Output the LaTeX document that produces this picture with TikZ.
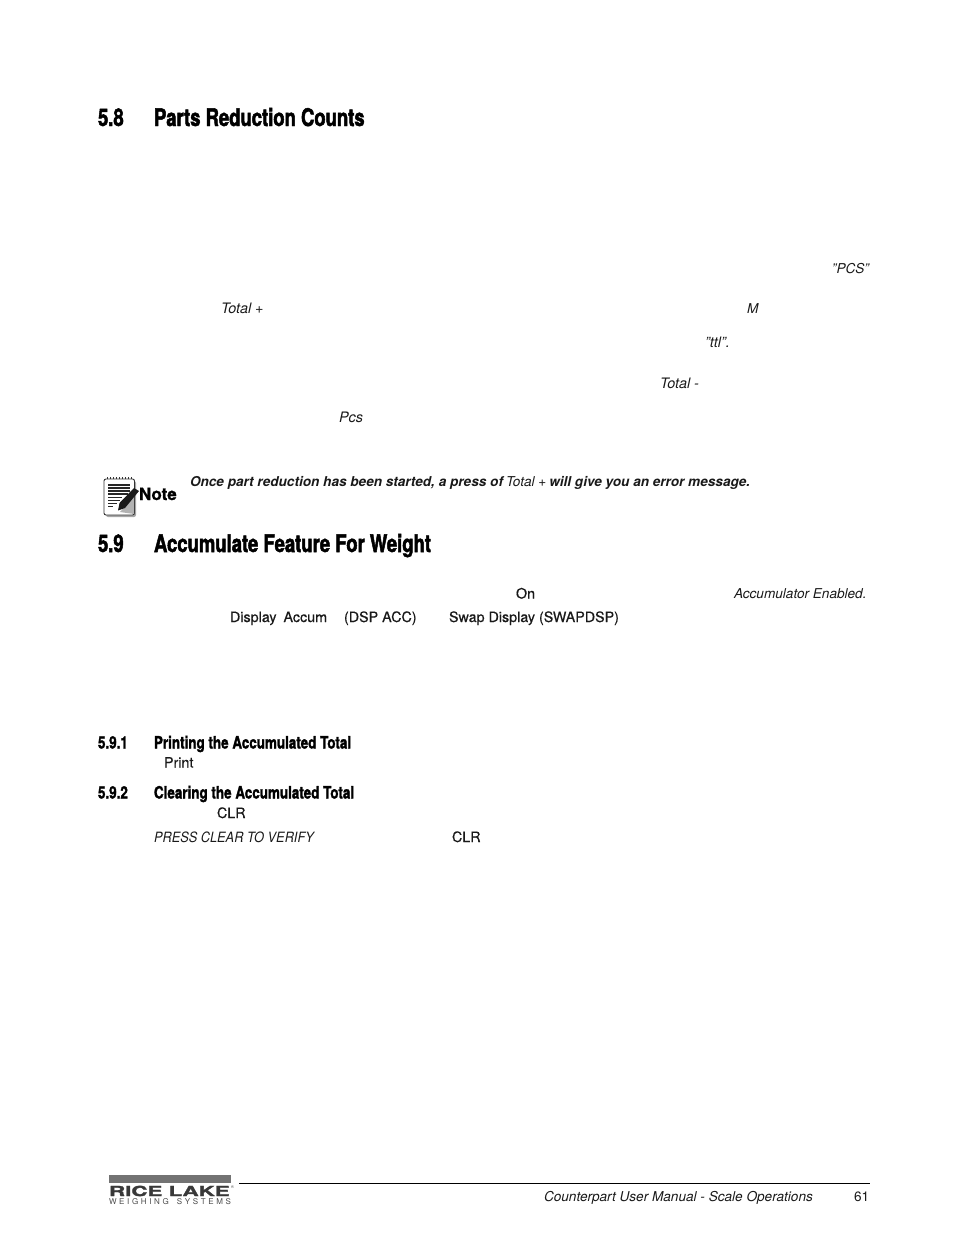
\documentclass[tikz,border=0pt]{standalone}
\usepackage{fontspec}
\setmainfont{TeX Gyre Heros}
\newfontfamily\headfont[FakeStretch=0.76,FakeBold=2]{TeX Gyre Heros Bold}
\newfontfamily\subheadfont[FakeStretch=0.79,FakeBold=1.6]{TeX Gyre Heros Bold}
\newfontfamily\logofont[FakeStretch=1.62,FakeBold=2.5]{TeX Gyre Heros Bold}
\newfontfamily\keyfont[FakeBold=0.5]{TeX Gyre Heros}
\newfontfamily\capsfont[FakeStretch=0.9]{TeX Gyre Heros Italic}
\newfontfamily\notefont[FakeBold=1]{TeX Gyre Heros Bold}
\usetikzlibrary{positioning}
\def\rulewidth{0.8pt}
\tikzset{
	base/.style={inner sep=0pt,outer sep=0pt,anchor=base west,text=black!90},
	heading/.style={base,text=black,font=\headfont\fontsize{24.3}{24}\selectfont},
	subheading/.style={base,text=black,font=\subheadfont\fontsize{17}{17}\selectfont},
	emph/.style={base,font=\fontsize{13.6}{14}\selectfont\itshape},
	shortemph/.style={base,font=\fontsize{14.4}{14}\selectfont\itshape},
	capsemph/.style={base,font=\capsfont\fontsize{14.2}{14}\selectfont},
	keyword/.style={base,font=\keyfont\fontsize{14.3}{14}\selectfont},
	boldnote/.style={base,font=\fontsize{13.6}{14}\selectfont\bfseries\itshape},
	footer/.style={base,font=\fontsize{13.6}{14}\selectfont},
}
\begin{document}
\begin{tikzpicture}[x=1pt,y=-1pt]
\useasboundingbox (0,0) rectangle (954,1235);
%Section headings
\node[heading] (h58) at (98,126) {5.8};
\node[heading] (t58) at (154,126) {Parts Reduction Counts};
\node[heading] (h59) at (98,552) {5.9};
\node[heading] (t59) at (154,552) {Accumulate Feature For Weight};
\node[subheading] (h591) at (98,748.5) {5.9.1};
\node[subheading] (t591) at (154,748.5) {Printing the Accumulated Total};
\node[subheading] (h592) at (98,798.5) {5.9.2};
\node[subheading] (t592) at (154,798.5) {Clearing the Accumulated Total};

%Words left on the page
\node[emph,anchor=base east] (pcsq) at (869,273) {”PCS”};
\node[shortemph] (total1) at (221,313) {Total +};
\node[emph] (mkey) at (747,313) {M};
\node[shortemph] (ttl) at (705,347) {”ttl”.};
\node[shortemph] (total2) at (660,388) {Total  -};
\node[shortemph] (pcs) at (339,422) {Pcs};
\node[keyword] (on) at (516,598.5) {On};
\node[emph] (accen) at (734,598.5) {Accumulator Enabled.};
\node[keyword] (dispacc) at (230,622) {Display\hspace{7pt}Accum};
\node[keyword] (dspacc) at (344,622) {(DSP ACC)};
\node[keyword] (swap) at (449,622) {Swap Display (SWAPDSP)};
\node[keyword] (print) at (164,767.5) {Print};
\node[keyword] (clr1) at (217,818) {CLR};
\node[capsemph] (press) at (154,842) {PRESS CLEAR TO VERIFY};
\node[keyword] (clr2) at (452,842) {CLR};

%The note
\node[boldnote] (note1) at (190,486) {Once part reduction has been started, a press of};
\node[emph,right=3pt of note1.base east,anchor=base west] (note2) {Total +};
\node[boldnote,right=3pt of note2.base east,anchor=base west] (note3) {will give you an error message.};
\node[base,text=black,font=\notefont\fontsize{17}{17}\selectfont] (notelabel) at (139,500) {Note};

%Note icon
\fill[black!35,rounded corners=2pt] (106,481) rectangle (136,517);
\draw[black!80,fill=white,line width=0.9pt,rounded corners=2pt] (104,479) rectangle (134.5,515);
\foreach \x in {107,110,...,131} {
	\draw[black!80,line width=0.7pt] (\x,479) -- (\x,477);
}
\foreach \y/\e in {484/130,487/130,490/130,493/128} {
	\fill[black!85] (108,\y) rectangle (\e,\y+1.5);
}
\foreach \y/\e in {497/122,500/120,503/117,506/113} {
	\fill[black!85] (108,\y) rectangle (\e,\y+0.8);
}
\fill[black!30] (120,512) -- (134,514) -- (134,496) -- cycle;
\fill[black!90] (118,510.5) -- (119.5,503) -- (134,488) -- (139,491) -- (125,508) -- cycle;

%Footer
\coordinate (rulestart) at (239,1183.5);
\coordinate (ruleend) at (870,1183.5);
\draw[line width=\rulewidth,black] (rulestart) -- (ruleend);
\node[emph] (manual) at (544,1201) {Counterpart User Manual - Scale Operations};
\node[footer] (pageno) at (854,1201) {61};

%Logo
\fill[black!55] (109,1175) rectangle (231,1183);
\node[base,text=black!78,font=\logofont\fontsize{13.8}{14}\selectfont] (ricelake) at (109,1196) {RICE LAKE};
\node[base,text=black!70,font=\fontsize{4}{4}\selectfont,anchor=base west] (regmark) at (231,1188) {®};
\node[base,text=black!70,font=\fontsize{8}{8}\selectfont,text width=122pt,align=justify] (weighing) at (109,1204) {W\hfill E\hfill I\hfill G\hfill H\hfill I\hfill N\hfill G\hspace{8pt}S\hfill Y\hfill S\hfill T\hfill E\hfill M\hfill S};
\end{tikzpicture}
\end{document}
